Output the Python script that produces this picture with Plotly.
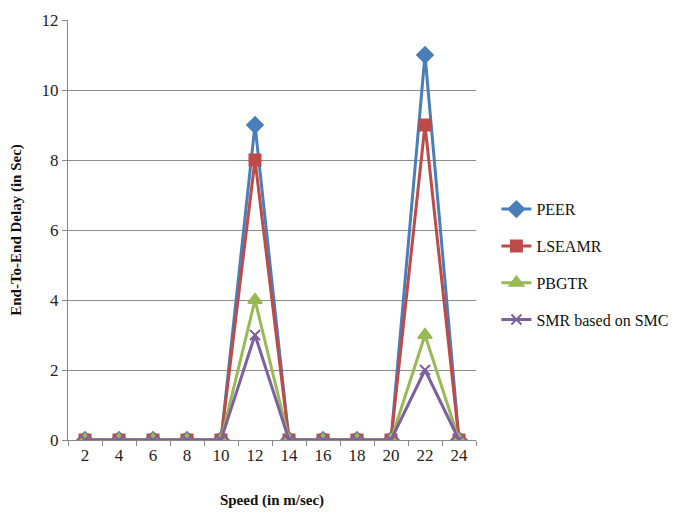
import plotly.graph_objects as go

speeds = ["2", "4", "6", "8", "10", "12", "14", "16", "18", "20", "22", "24"]
peer = [0, 0, 0, 0, 0, 9, 0, 0, 0, 0, 11, 0]
lseamr = [0, 0, 0, 0, 0, 8, 0, 0, 0, 0, 9, 0]
pbgtr = [0, 0, 0, 0, 0, 4, 0, 0, 0, 0, 3, 0]
smr = [0, 0, 0, 0, 0, 3, 0, 0, 0, 0, 2, 0]

series = [
    ("PEER", peer, "#4A7EBB", "diamond", 12),
    ("LSEAMR", lseamr, "#BE4B48", "square", 11),
    ("PBGTR", pbgtr, "#98B954", "triangle-up", 12),
    ("SMR based on SMC", smr, "#7D60A0", "x-thin-open", 10),
]

font = "Liberation Serif"

fig = go.Figure()
for name, vals, color, sym, size in series:
    fig.add_trace(go.Scatter(
        x=speeds, y=vals, name=name, mode="lines+markers",
        legendgroup=name,
        line=dict(color=color, width=3),
        marker=dict(symbol=sym, size=size, color=color,
                    line=dict(color=color, width=2)),
    ))

fig.update_layout(
    width=681, height=512,
    margin=dict(l=68, r=205, t=20, b=72, autoexpand=False),
    paper_bgcolor="white", plot_bgcolor="white",
    font=dict(family=font, size=16, color="#222"),
    showlegend=True,
    legend=dict(x=1.05, y=0.59, xanchor="left", yanchor="top",
                font=dict(family=font, size=16, color="#111"),
                tracegroupgap=13, itemwidth=30,
                bgcolor="rgba(0,0,0,0)"),
    xaxis=dict(
        type="category", tickson="boundaries",
        ticks="outside", ticklen=5, tickcolor="#888",
        showline=True, linecolor="#888", linewidth=1,
        showgrid=False, range=[-0.5, 11.5],
        tickfont=dict(family=font, size=17, color="#222"),
        title=dict(text="<b>Speed (in m/sec)</b>", standoff=30,
                   font=dict(family=font, size=15, color="#111")),
    ),
    yaxis=dict(
        range=[0, 12], dtick=2, ticks="outside", ticklen=5, tickcolor="#888",
        showline=True, linecolor="#888", linewidth=1,
        showgrid=True, gridcolor="#8c8c8c", gridwidth=1,
        zeroline=False,
        tickfont=dict(family=font, size=17, color="#222"),
        title=dict(text="<b>End-To-End Delay (in Sec)</b>", standoff=16,
                   font=dict(family=font, size=15, color="#111")),
    ),
)

fig.write_html("out.html")
